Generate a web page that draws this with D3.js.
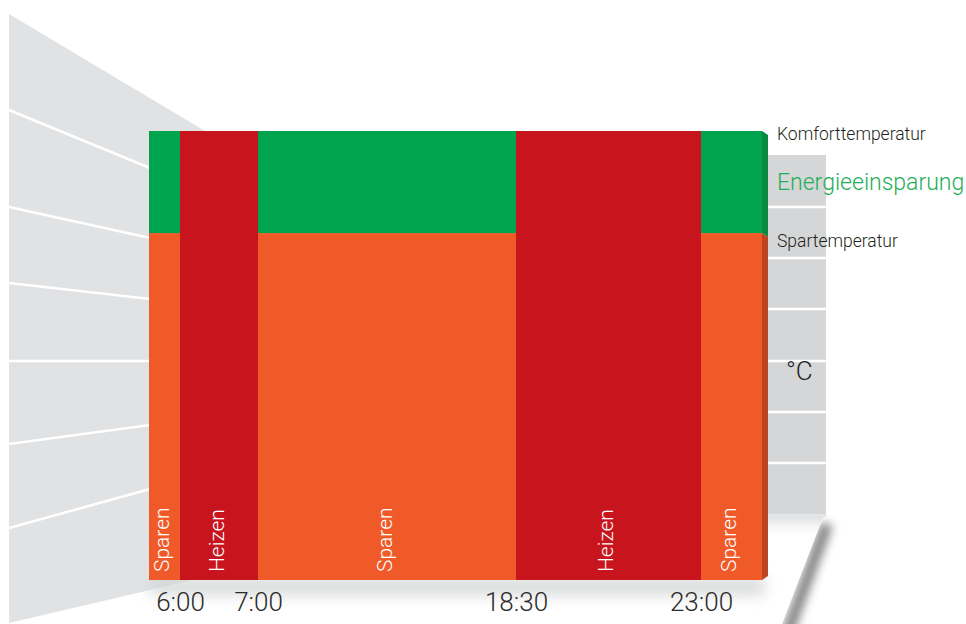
<!DOCTYPE html>
<html>
<head>
<meta charset="utf-8">
<script src="https://cdn.jsdelivr.net/npm/d3@7"></script>
<style>
  html, body { margin: 0; padding: 0; background: #ffffff; }
  svg { display: block; }
  text { font-family: Roboto, "Liberation Sans", sans-serif; font-weight: 300; }
</style>
</head>
<body>
<svg id="chart" width="966" height="624"></svg>
<script>
// ---- data ----
const segLabels = ["Sparen", "Heizen", "Sparen", "Heizen", "Sparen"];
const segModes  = ["spar", "heiz", "spar", "heiz", "spar"];
const segStart  = [5, 6, 7, 18.5, 23];
const segEnd    = [6, 7, 18.5, 23, 24];
const tickHours  = [6, 7, 18.5, 23];
const tickLabels = ["6:00", "7:00", "18:30", "23:00"];
const komfortTemp = 22;
const sparTemp = 17;
const levelLabels = ["Komforttemperatur", "Energieeinsparung", "Spartemperatur"];
const unitLabel = "°C";

// ---- layout ----
const svg = d3.select("#chart");
const colGreen = "#00a44f", colRed = "#c8141c", colOrange = "#f05a29";
const colGreenSide = "#0a8a40", colOrangeSide = "#bd4421";

const x = d3.scaleLinear()
  .domain([5, 6, 7, 18.5, 23, 24])
  .range([149, 180, 258, 516, 701, 762]);
const y = d3.scaleLinear().domain([0, komfortTemp]).range([580, 131]);

const defs = svg.append("defs");
defs.append("filter").attr("id", "blurS").attr("x", "-20%").attr("y", "-150%").attr("width", "140%").attr("height", "400%")
  .append("feGaussianBlur").attr("stdDeviation", 7);
defs.append("filter").attr("id", "blurF").attr("x", "-100%").attr("y", "-20%").attr("width", "300%").attr("height", "140%")
  .append("feGaussianBlur").attr("stdDeviation", 5);

// left wall
svg.append("path")
  .attr("d", d3.line()([[9, 14], [210, 134], [210, 576], [9, 623]]) + "Z")
  .attr("fill", "#e1e2e4");
const wallLines = [[110, 168], [207, 238], [283, 299], [361, 361], [444, 425], [528, 489]];
svg.append("g").selectAll("line").data(wallLines).join("line")
  .attr("x1", 9).attr("x2", 150)
  .attr("y1", d => d[0]).attr("y2", d => d[1])
  .attr("stroke", "#ffffff").attr("stroke-width", 2.5);

// right panel
svg.append("rect").attr("x", 766).attr("y", 155).attr("width", 60).attr("height", 360).attr("fill", "#d5d6d8");
const panelLines = [207, 258, 309, 361, 412, 463];
svg.append("g").selectAll("line").data(panelLines).join("line")
  .attr("x1", 766).attr("x2", 826)
  .attr("y1", d => d).attr("y2", d => d)
  .attr("stroke", "#ffffff").attr("stroke-width", 2.5);

// floor fold shadow (right edge)
svg.append("line")
  .attr("x1", 827).attr("y1", 524).attr("x2", 787).attr("y2", 634)
  .attr("stroke", "#5a5a5a").attr("stroke-width", 12).attr("filter", "url(#blurF)").attr("opacity", 0.75);
svg.append("path")
  .attr("d", d3.line()([[700, 515], [824, 515], [782, 624], [700, 624]]) + "Z")
  .attr("fill", "#ffffff");
svg.append("rect").attr("x", 766).attr("y", 514).attr("width", 60).attr("height", 3).attr("fill", "#e4e5e6");
// soft shadow beneath panel
const gPanel = defs.append("linearGradient").attr("id", "gPanel").attr("x1", 0).attr("y1", 0).attr("x2", 0).attr("y2", 1);
gPanel.append("stop").attr("offset", 0).attr("stop-color", "#d2d3d5").attr("stop-opacity", 0.7);
gPanel.append("stop").attr("offset", 1).attr("stop-color", "#ffffff").attr("stop-opacity", 0);
svg.append("path")
  .attr("d", d3.line()([[766, 517], [823, 517], [814, 540], [766, 540]]) + "Z")
  .attr("fill", "url(#gPanel)");

// soft shadow beneath bars
svg.append("rect").attr("x", 150).attr("y", 576).attr("width", 615).attr("height", 20)
  .attr("fill", "#d4d5d7").attr("opacity", 0.8).attr("filter", "url(#blurS)");

// ---- bars ----
const segs = segLabels.map((lab, i) => ({ lab, mode: segModes[i], s: segStart[i], e: segEnd[i] }));
const gBars = svg.append("g");
segs.forEach(d => {
  if (d.mode === "heiz") {
    gBars.append("rect")
      .attr("x", x(d.s)).attr("width", x(d.e) - x(d.s))
      .attr("y", y(komfortTemp)).attr("height", y(0) - y(komfortTemp))
      .attr("fill", colRed);
  } else {
    gBars.append("rect")
      .attr("x", x(d.s)).attr("width", x(d.e) - x(d.s))
      .attr("y", y(sparTemp)).attr("height", y(0) - y(sparTemp))
      .attr("fill", colOrange);
    gBars.append("rect")
      .attr("x", x(d.s)).attr("width", x(d.e) - x(d.s))
      .attr("y", y(komfortTemp)).attr("height", y(sparTemp) - y(komfortTemp))
      .attr("fill", colGreen);
  }
});
// 3D side face of last bar
const xe = x(24), dd = 6;
svg.append("path")
  .attr("d", d3.line()([[xe, y(komfortTemp)], [xe + dd, y(komfortTemp) + 4], [xe + dd, y(sparTemp) + 4], [xe, y(sparTemp)]]) + "Z")
  .attr("fill", colGreenSide);
svg.append("path")
  .attr("d", d3.line()([[xe, y(sparTemp)], [xe + dd, y(sparTemp) + 4], [xe + dd, y(0) - 4], [xe, y(0)]]) + "Z")
  .attr("fill", colOrangeSide);

// segment labels (rotated)
svg.append("g").selectAll("text").data(segs).join("text")
  .attr("transform", d => `translate(${(x(d.s) + x(d.e)) / 2 - 3},${y(0) - 8}) rotate(-90)`)
  .attr("dy", "0.36em")
  .attr("text-anchor", "start")
  .attr("fill", "#ffffff")
  .attr("font-size", 21)
  .text(d => d.lab);

// time axis
const xAxis = d3.axisBottom(x).tickValues(tickHours).tickFormat((v, i) => tickLabels[i]).tickSize(0).tickPadding(0);
const gAx = svg.append("g").attr("transform", "translate(0,593)").call(xAxis);
gAx.select(".domain").remove();
gAx.selectAll("text")
  .attr("dy", "0.71em")
  .attr("font-size", 26)
  .attr("fill", "#2a2a2a")
  .style("font-family", "Roboto, 'Liberation Sans', sans-serif")
  .style("font-weight", 300);

// level labels on right
const lx = 777;
svg.append("text").attr("x", lx).attr("y", 140).attr("font-size", 17.5).attr("fill", "#231f20").text(levelLabels[0]);
svg.append("text").attr("x", lx).attr("y", 190).attr("font-size", 23).attr("fill", "#1fae57").text(levelLabels[1]);
svg.append("text").attr("x", lx).attr("y", 247).attr("font-size", 17.5).attr("fill", "#231f20").text(levelLabels[2]);
svg.append("text").attr("x", 786).attr("y", 380).attr("font-size", 26).attr("fill", "#231f20").text(unitLabel);
</script>
</body>
</html>
